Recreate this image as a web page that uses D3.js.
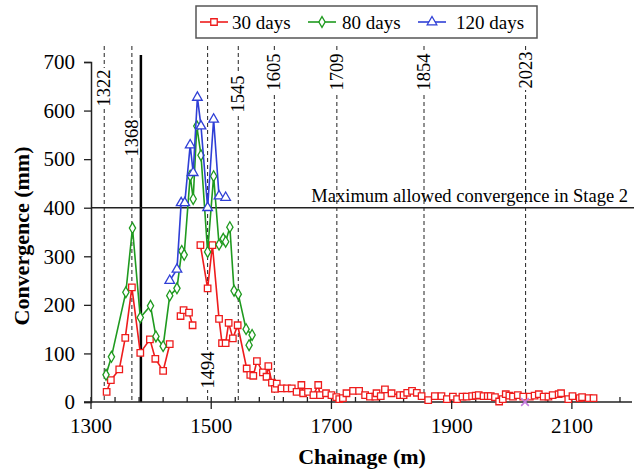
<!DOCTYPE html>
<html><head><meta charset="utf-8">
<script src="https://cdn.jsdelivr.net/npm/d3@7"></script>
<style>body{margin:0;background:#fff}svg{display:block}text{font-family:"Liberation Serif","DejaVu Serif",serif;fill:#000}</style>
</head><body><svg id="c" width="634" height="471"></svg>
<script>
// ---- data ----
const xTicks = [1300, 1500, 1700, 1900, 2100];
const yTicks = [0, 100, 200, 300, 400, 500, 600, 700];
const seriesNames = ["30 days", "80 days", "120 days"];
const refLines = [1322, 1368, 1494, 1545, 1605, 1709, 1854, 2023];
const solidLine = 1383;
const limitValue = 400;
const limitLabel = "Maximum allowed convergence in Stage 2";
const markX = [2022], markY = [0];

// 30 days (null = gap)
const red30X = [1326,1333,1347,1357,1368,1382,1398,1407,1420,1431,null,
 1449,1454,1463,1469,null,
 1482,1494,1502,1513,1518,1524,1529,1536,1544,1559,1565,1570,1576,1586,1592,1595,1601,1606,1609,1617,1626,1634,1642,1650,1653,1661,1670,1678,1681,1691,1700,1708,1713,1719,1725,1736,1746,1756,1764,1773,1775,1782,1789,1800,1814,1820,1826,1834,1842,1850,1861,1872,1883,1892,1902,1909,1918,1925,1934,1940,1945,1953,1960,1965,1972,1979,1985,1990,1996,2002,2010,2019,2030,2038,2045,2053,2061,2068,2078,2082,2094,2101,2113,2117,2128,2136];
const red30Y = [21,45,67,132,236,101,129,89,64,119,null,
 177,189,184,158,null,
 323,234,323,171,121,121,163,131,158,69,56,54,84,61,52,74,40,27,38,28,28,28,21,35,18,21,14,35,14,18,14,10,6,8,18,23,23,14,11,11,18,12,26,18,14,14,19,23,19,12,4,12,12,6,11,6,11,11,12,13,14,12,12,12,10,1,6,16,13,11,14,11,11,13,16,11,11,14,16,18,6,12,8,10,8,8];
// 80 days
const green80X = [1325,1334,1358,1369,1382,1399,1408,1420,1431,1443,1451,1455,1465,1470,1476,1483,1494,1504,1513,1520,1524,1531,1538,1545,1558,1568,1563];
const green80Y = [56,93,226,358,174,198,135,115,219,234,311,303,466,418,568,508,309,465,324,336,330,360,229,222,150,138,117];
// 120 days
const blue120X = [1431,1443,1450,1456,1465,1470,1477,1483,1494,1504,1513,1524];
const blue120Y = [250,273,410,410,529,472,627,568,400,582,424,421];

// ---- layout ----
const svg = d3.select("#c");
const x = d3.scaleLinear().domain([1300, 2200]).range([91, 632]);
const y = d3.scaleLinear().domain([0, 700]).range([402, 62]);
const colors = ["#ee1c1c", "#1f9a1f", "#2f3fd6"];
const labelY = [88, 138, 370, 94, 72, 72, 72, 70];

// reference dashed lines
refLines.forEach((v, i) => {
  svg.append("line").attr("x1", x(v)).attr("x2", x(v)).attr("y1", 46).attr("y2", y(0))
    .attr("stroke", "#222").attr("stroke-width", 1).attr("stroke-dasharray", "4,3");
});
svg.append("line").attr("x1", x(solidLine)).attr("x2", x(solidLine)).attr("y1", 55).attr("y2", y(0))
  .attr("stroke", "#000").attr("stroke-width", 2.5);

// limit line
svg.append("line").attr("x1", x(1300)).attr("x2", 634).attr("y1", y(limitValue)).attr("y2", y(limitValue))
  .attr("stroke", "#222").attr("stroke-width", 1.5);
svg.append("text").attr("x", 628).attr("y", y(limitValue) - 6).attr("text-anchor", "end")
  .attr("font-size", 18.5).text(limitLabel);

// axes
const yAxis = d3.axisLeft(y).tickValues(yTicks).tickSize(7).tickPadding(9);
const gy = svg.append("g").attr("transform", `translate(${x(1300)},0)`).call(yAxis);
gy.select(".domain").attr("stroke", "#222").attr("stroke-width", 1.5);
gy.selectAll(".tick line").attr("stroke", "#222").attr("stroke-width", 1.3);
gy.selectAll(".tick text").attr("font-size", 21).attr("font-family", "Liberation Serif").attr("fill", "#000");

const minor = d3.range(1300, 2201, 40);
const gx = svg.append("g").attr("transform", `translate(0,${y(0)})`);
gx.append("line").attr("x1", x(1300) - 7).attr("x2", 632).attr("y1", 0).attr("y2", 0)
  .attr("stroke", "#222").attr("stroke-width", 1.5);
gx.selectAll("line.mn").data(minor).join("line").attr("class", "mn")
  .attr("x1", d => x(d)).attr("x2", d => x(d)).attr("y1", -5)
  .attr("y2", d => (xTicks.includes(d) ? 7 : 0))
  .attr("stroke", "#222").attr("stroke-width", 1.3);
gx.selectAll("text.xl").data(xTicks).join("text").attr("class", "xl")
  .attr("x", d => x(d)).attr("y", 31).attr("text-anchor", "middle").attr("font-size", 21)
  .text(d => d);

// axis titles
svg.append("text").attr("x", 362).attr("y", 464).attr("text-anchor", "middle")
  .attr("font-size", 22).attr("font-weight", "bold").text("Chainage (m)");
svg.append("text").attr("transform", "translate(29,236) rotate(-90)").attr("text-anchor", "middle")
  .attr("font-size", 22).attr("font-weight", "bold").text("Convergence (mm)");

// ref labels with white background
refLines.forEach((v, i) => {
  const g = svg.append("g").attr("transform", `translate(${x(v) + 6},${labelY[i]}) rotate(-90)`);
  g.append("rect").attr("x", -20).attr("y", -17).attr("width", 40).attr("height", 19).attr("fill", "#fff");
  g.append("text").attr("x", 0).attr("y", 0).attr("text-anchor", "middle").attr("font-size", 18.5).text(v);
});

// series
function toPts(xs, ys) { return xs.map((d, i) => (d === null ? null : [d, ys[i]])); }
const seriesData = [toPts(red30X, red30Y), toPts(green80X, green80Y), toPts(blue120X, blue120Y)];
const line = d3.line().defined(d => d !== null).x(d => x(d[0])).y(d => y(d[1]));
const sq = d3.symbol().type(d3.symbolSquare).size(42);
const di = d3.symbol().type(d3.symbolDiamond).size(34);
const tri = d3.symbol().type(d3.symbolTriangle).size(40);
const syms = [sq, di, tri];
seriesData.forEach((pts, k) => {
  svg.append("path").attr("d", line(pts)).attr("fill", "none").attr("stroke", colors[k]).attr("stroke-width", 1.6);
  svg.append("g").selectAll("path").data(pts.filter(d => d !== null)).join("path")
    .attr("d", syms[k]()).attr("transform", d => `translate(${x(d[0])},${y(d[1])})`)
    .attr("fill", "#fff").attr("stroke", colors[k]).attr("stroke-width", 1.3);
});
// purple cross marker
svg.selectAll("path.mk").data(markX).join("path").attr("class", "mk")
  .attr("d", d3.symbol().type(d3.symbolX).size(40)())
  .attr("transform", (d, i) => `translate(${x(d)},${y(markY[i])})`)
  .attr("stroke", "#c77be0").attr("stroke-width", 1.6).attr("fill", "none");

// legend
const lg = svg.append("g");
lg.append("rect").attr("x", 196).attr("y", 6).attr("width", 341).attr("height", 32)
  .attr("fill", "#fff").attr("stroke", "#555").attr("stroke-width", 1.5);
const lx = [200, 308, 418];
const tx = [232, 342, 456];
seriesNames.forEach((n, k) => {
  lg.append("line").attr("x1", lx[k]).attr("x2", lx[k] + 28).attr("y1", 22).attr("y2", 22)
    .attr("stroke", colors[k]).attr("stroke-width", 1.6);
  lg.append("path").attr("d", syms[k]()).attr("transform", `translate(${lx[k] + 14},22)`)
    .attr("fill", "#fff").attr("stroke", colors[k]).attr("stroke-width", 1.3);
  lg.append("text").attr("x", tx[k]).attr("y", 29).attr("font-size", 19).text(n);
});
</script></body></html>
